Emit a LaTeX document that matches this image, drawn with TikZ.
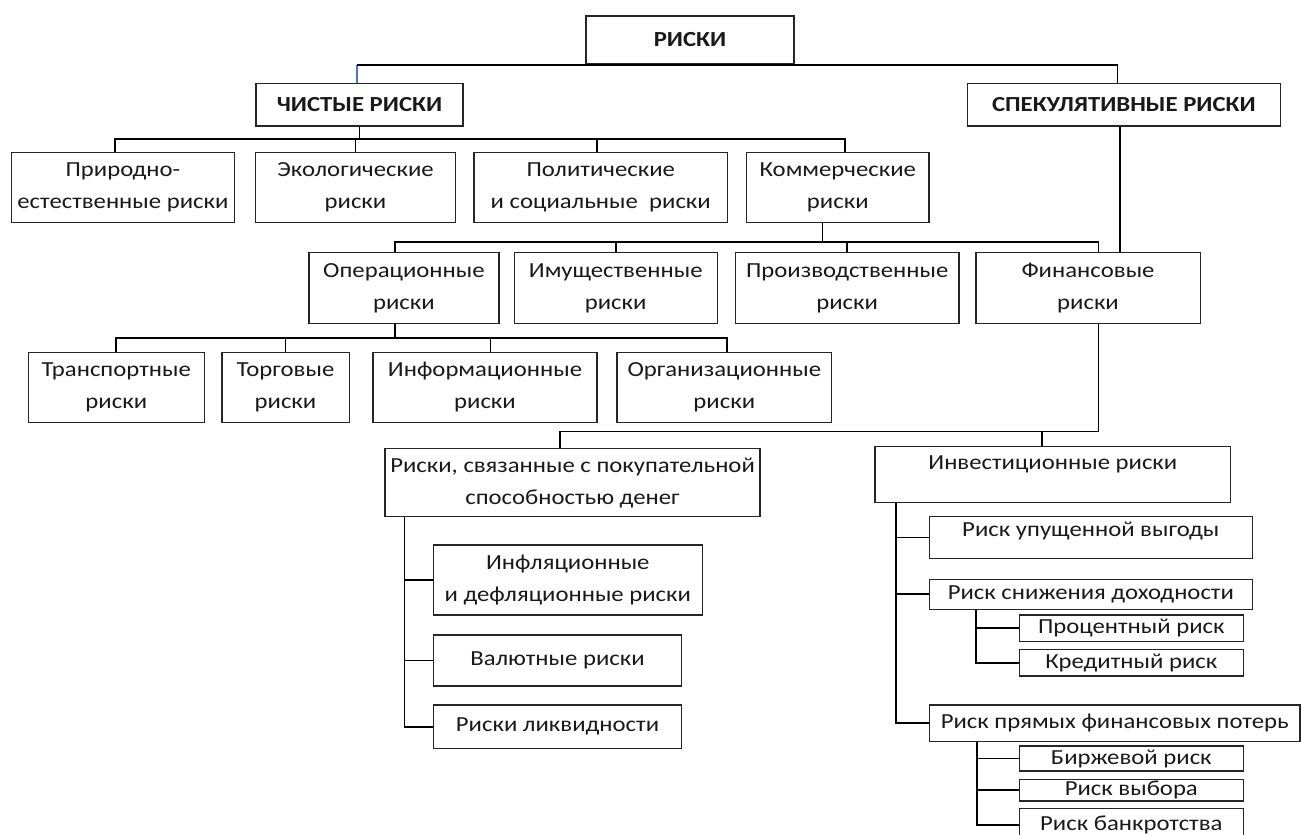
\documentclass[tikz,border=0pt]{standalone}
\usepackage{fontspec}
\setmainfont[FakeStretch=1.15]{Carlito}
\usetikzlibrary{calc}
\definecolor{linkblue}{RGB}{70,120,190}
\tikzset{
  box/.style={draw=black!85, line width=1.3pt, inner sep=0pt, align=center,
    text=black!90, font=\fontsize{21.5}{32}\selectfont},
  conn/.style={draw=black, line width=1.7pt},
  bconn/.style={draw=linkblue, line width=1.7pt},
}
\newcommand{\bx}[7]{\node[box,#7, minimum width=#4, minimum height=#5] (#1) at (#2,#3) {#6};}
\begin{document}
\begin{tikzpicture}[x=1pt,y=-1pt]
\useasboundingbox (0,0) rectangle (1301,835);
% level 0-1
\bx{root}{690}{40}{208}{48}{\bfseries РИСКИ}{}
\bx{cist}{359.5}{104.7}{207}{42.7}{\bfseries ЧИСТЫЕ РИСКИ}{}
\bx{spec}{1123.9}{104.7}{313}{42.7}{\bfseries СПЕКУЛЯТИВНЫЕ РИСКИ}{}
% level 2
\bx{prir}{122.9}{187.7}{222.6}{70}{Природно-\\естественные риски}{}
\bx{ekol}{355.5}{187.7}{199.4}{70}{Экологические\\риски}{}
\bx{polit}{600.7}{187.7}{253.6}{70}{Политические\\и социальные\ \ риски}{}
\bx{komm}{837.8}{187.7}{182.4}{70}{Коммерческие\\риски}{}
% level 3
\bx{oper}{403.9}{288}{189.9}{70.6}{Операционные\\риски}{}
\bx{imush}{615.7}{288}{203.1}{70.6}{Имущественные\\риски}{}
\bx{proizv}{847.2}{288}{223.5}{70.6}{Производственные\\риски}{}
\bx{fin}{1088}{288}{224.3}{70.6}{Финансовые\\риски}{}
% level 4
\bx{trans}{116.3}{387.3}{176.2}{70}{Транспортные\\риски}{}
\bx{torg}{285.5}{387.3}{127.3}{70}{Торговые\\риски}{}
\bx{inform}{485}{387.3}{223.9}{70}{Информационные\\риски}{}
\bx{org}{724.3}{387.3}{214.7}{70}{Организационные\\риски}{}
% purchasing power
\bx{pokup}{572.5}{482.5}{375}{68.4}{Риски, связанные с покупательной\\способностью денег}{}
\bx{infl}{567.8}{580}{269}{70}{Инфляционные\\и дефляционные риски}{}
\bx{val}{557.5}{660.5}{248.4}{51}{Валютные риски}{}
\bx{likv}{557.5}{726.7}{248.4}{43.3}{Риски ликвидности}{}
% investment
\bx{invest}{1052.8}{474.7}{355.7}{56}{Инвестиционные риски}{text depth=24pt}
\bx{upush}{1090.8}{537.5}{323}{41.6}{Риск упущенной выгоды}{text depth=17pt}
\bx{snizh}{1090.8}{594.3}{323}{30}{Риск снижения доходности}{}
\bx{proc}{1131.3}{628.3}{224}{26.7}{Процентный риск}{}
\bx{kred}{1131.3}{662.7}{224}{26.7}{Кредитный риск}{}
\bx{pryam}{1114.7}{723.3}{370.7}{36.7}{Риск прямых финансовых потерь}{}
\bx{birzh}{1131.3}{758.5}{224}{25}{Биржевой риск}{}
\bx{vybor}{1131.3}{790.2}{224}{21.7}{Риск выбора}{}
\bx{bankr}{1131.3}{825.2}{224}{33.7}{Риск банкротства}{}
% helper coordinates
\coordinate (cistT) at ([xshift=-2.5pt]cist.north);
\coordinate (specT) at ([xshift=-6.5pt]spec.north);
\coordinate (bus1) at (0,139.3);
\coordinate (prirT) at ([xshift=-7.6pt]prir.north);
\coordinate (polT) at ([xshift=-3.7pt]polit.north);
\coordinate (komT) at ([xshift=7.2pt]komm.north);
\coordinate (komB) at ([xshift=-15.3pt]komm.south);
\coordinate (bus2) at (0,241.7);
\coordinate (operT) at ([xshift=-9.2pt]oper.north);
\coordinate (finT) at ([xshift=10.6pt]fin.north);
\coordinate (specB) at ([xshift=-4.2pt]spec.south);
\coordinate (operB) at ([xshift=-9.2pt]oper.south);
\coordinate (bus3) at (0,338.3);
\coordinate (infT) at ([xshift=5.5pt]inform.north);
\coordinate (orgT) at ([xshift=2.8pt]org.north);
\coordinate (finB) at ([xshift=10.6pt]fin.south);
\coordinate (bus4) at (0,431.5);
\coordinate (pokT) at ([xshift=-12.5pt]pokup.north);
\coordinate (invT) at ([xshift=-10.8pt]invest.north);
\coordinate (pokB) at ([xshift=20pt]pokup.south west);
\coordinate (invB) at ([xshift=21.7pt]invest.south west);
\coordinate (snB) at ([xshift=47.4pt]snizh.south west);
\coordinate (prB) at ([xshift=48pt]pryam.south west);
% level 0 connectors
\draw[bconn] (cistT) -- (cistT |- root.south);
\draw[conn] (cistT |- root.south) -| (specT);
% level 1
\draw[conn] (cist.south) -- (cist.south |- bus1);
\draw[conn] (prirT) |- (bus1 -| komT) -- (komT);
\draw[conn] (ekol.north) -- (ekol.north |- bus1);
\draw[conn] (polT) -- (polT |- bus1);
% level 2
\draw[conn] (komB) -- (komB |- bus2);
\draw[conn] (operT) |- (bus2 -| finT) -- (finT);
\draw[conn] (imush.north) -- (imush.north |- bus2);
\draw[conn] (proizv.north) -- (proizv.north |- bus2);
\draw[conn] (specB) -- (specB |- fin.north);
% level 3
\draw[conn] (operB) -- (operB |- bus3);
\draw[conn] (trans.north) |- (bus3 -| orgT) -- (orgT);
\draw[conn] (torg.north) -- (torg.north |- bus3);
\draw[conn] (infT) -- (infT |- bus3);
% financial
\draw[conn] (finB) |- (bus4 -| pokT) -- (pokT);
\draw[conn] (invT) -- (invT |- bus4);
% purchasing power
\draw[conn] (pokB) |- (likv.west);
\draw[conn] (pokB |- infl.west) -- (infl.west);
\draw[conn] (pokB |- val.west) -- (val.west);
% investment
\draw[conn] (invB) |- (pryam.west);
\draw[conn] (invB |- upush.west) -- (upush.west);
\draw[conn] (invB |- snizh.west) -- (snizh.west);
\draw[conn] (snB) |- (kred.west);
\draw[conn] (snB |- proc.west) -- (proc.west);
\draw[conn] (prB) |- (bankr.west);
\draw[conn] (prB |- birzh.west) -- (birzh.west);
\draw[conn] (prB |- vybor.west) -- (vybor.west);
\end{tikzpicture}
\end{document}
